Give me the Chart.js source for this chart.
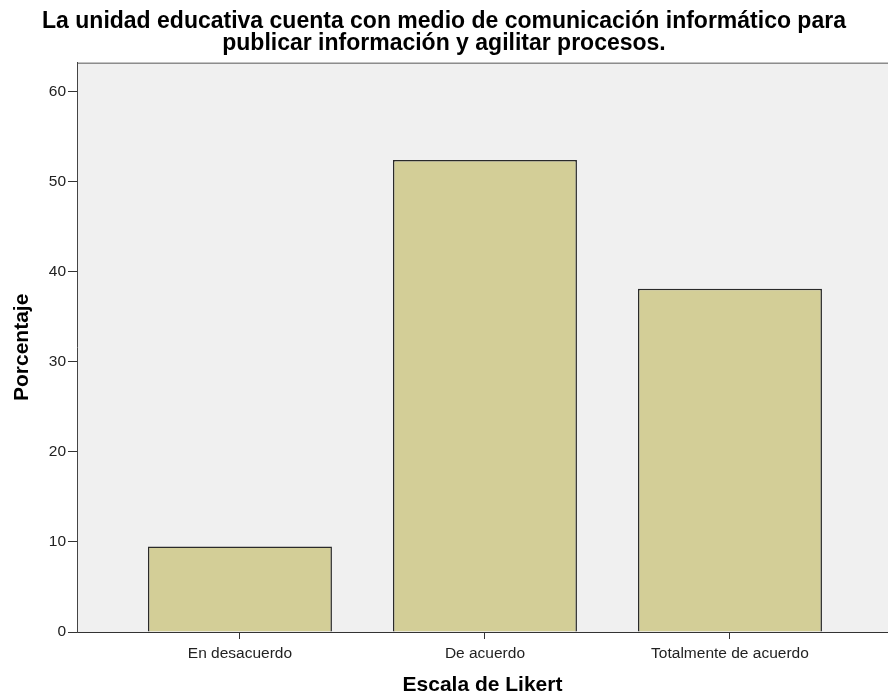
<!DOCTYPE html>
<html>
<head>
<meta charset="utf-8">
<script src="https://cdn.jsdelivr.net/npm/chart.js@4/dist/chart.umd.min.js"></script>
<style>
  body { margin: 0; background: #fff; overflow: hidden; }
</style>
</head>
<body>
<canvas id="likert" width="888" height="698"></canvas>
<script>
// data
const categories = ['En desacuerdo', 'De acuerdo', 'Totalmente de acuerdo'];
const percentages = [9.5, 52.4, 38.1];
const yTicks = [0, 10, 20, 30, 40, 50, 60];

const titleLines = ['La unidad educativa cuenta con medio de comunicación informático para',
	'publicar información y agilitar procesos.'];

Chart.defaults.font.family = "'Liberation Sans', Arial, sans-serif";
Chart.defaults.color = '#222';

// grey plot background + thin top frame line
const plotBackground = {
	id: 'plotBackground',
	beforeDraw(chart) {
		const { ctx, chartArea: a } = chart;
		ctx.save();
		ctx.fillStyle = '#f0f0f0';
		ctx.fillRect(a.left, a.top, a.right - a.left, a.bottom - a.top);
		ctx.strokeStyle = '#8c8c8c';
		ctx.lineWidth = 1.5;
		ctx.beginPath();
		ctx.moveTo(a.left, a.top + 0.5);
		ctx.lineTo(a.right, a.top + 0.5);
		ctx.stroke();
		ctx.restore();
	}
};

const config = {
	type: 'bar',
	data: {
		datasets: [{
			label: 'Porcentaje',
			data: percentages.map((v, i) => ({ x: i, y: v })),
			backgroundColor: '#d3ce97',
			borderColor: '#2a2a2a',
			borderWidth: 1.5,
			categoryPercentage: 1,
			barPercentage: 0.751
		}]
	},
	options: {
		responsive: false,
		animation: false,
		layout: { padding: 0 },
		plugins: {
			legend: { display: false },
			tooltip: { enabled: false },
			title: {
				display: true,
				text: titleLines,
				color: '#000',
				font: { size: 23, weight: 'bold', lineHeight: 0.95 },
				padding: { top: 11, bottom: 8 }
			}
		},
		scales: {
			x: {
				type: 'linear',
				offset: false,
				min: -0.665,
				max: 2.645,
				ticks: {
					stepSize: 1,
					padding: 5,
					font: { size: 15.5 },
					callback: v => categories[v]
				},
				afterBuildTicks: s => { s.ticks = s.ticks.filter(t => Number.isInteger(t.value)); },
				afterFit: s => { s.height = 66; },
				grid: { offset: false, drawOnChartArea: false, drawTicks: true, tickLength: 7, color: '#333' },
				border: { display: true, color: '#333', width: 1 },
				title: {
					display: true,
					text: 'Escala de Likert',
					color: '#000',
					font: { size: 21, weight: 'bold' },
					padding: { top: 0, bottom: 0 }
				}
			},
			y: {
				min: 0,
				max: 63.2,
				ticks: {
					stepSize: 10,
					padding: 2,
					font: { size: 15.5 }
				},
				afterBuildTicks: s => { s.ticks = s.ticks.filter(t => yTicks.includes(t.value)); },
				afterFit: s => { s.width = 77; },
				grid: { drawOnChartArea: false, drawTicks: true, tickLength: 9, color: '#333' },
				border: { display: true, color: '#444', width: 1 },
				title: {
					display: true,
					text: 'Porcentaje',
					color: '#000',
					font: { size: 21, weight: 'bold' },
					padding: { top: 10, bottom: 0 }
				}
			}
		}
	},
	plugins: [plotBackground]
};

const likertChart = new Chart(document.getElementById('likert'), config);
</script>
</body>
</html>
